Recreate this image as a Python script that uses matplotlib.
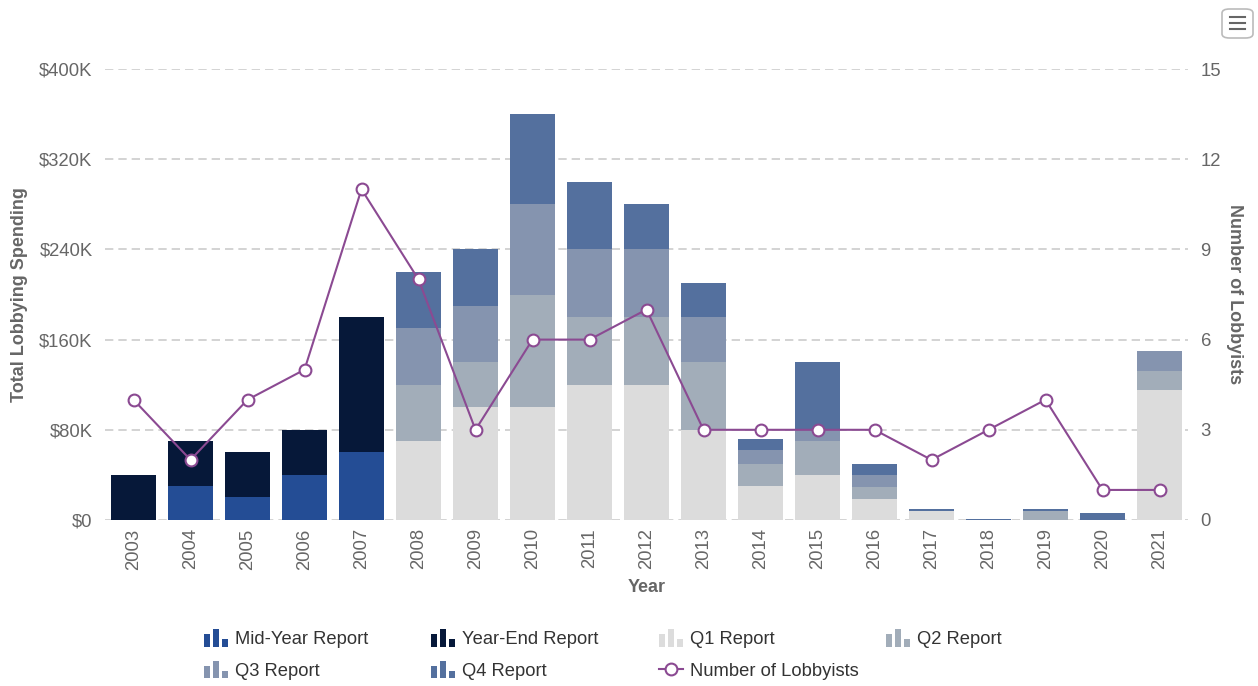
import numpy as np
import matplotlib
matplotlib.use("Agg")
import matplotlib.pyplot as plt
from matplotlib.patches import Rectangle, FancyBboxPatch
from matplotlib.legend_handler import HandlerBase
from matplotlib.lines import Line2D

plt.rcParams['font.family'] = ['Liberation Sans', 'DejaVu Sans']

years = [str(y) for y in range(2003, 2022)]

# spending in $K per report type
mid_year = [0, 30, 20, 40, 60, 0, 0, 0, 0, 0, 0, 0, 0, 0, 0, 0, 0, 0, 0]
year_end = [40, 40, 40, 40, 120, 0, 0, 0, 0, 0, 0, 0, 0, 0, 0, 0, 0, 0, 0]
q1 = [0, 0, 0, 0, 0, 70, 100, 100, 120, 120, 80, 30, 40, 19, 8, 0, 0, 0, 115]
q2 = [0, 0, 0, 0, 0, 50, 40, 100, 60, 60, 60, 20, 30, 10, 0, 0, 8, 0, 17]
q3 = [0, 0, 0, 0, 0, 50, 50, 80, 60, 60, 40, 12, 10, 11, 0, 0, 0, 0, 18]
q4 = [0, 0, 0, 0, 0, 50, 50, 80, 60, 40, 30, 10, 60, 10, 2, 1, 2, 6.5, 0]
lobbyists = [4, 2, 4, 5, 11, 8, 3, 6, 6, 7, 3, 3, 3, 3, 2, 3, 4, 1, 1]

colors = {
    "Mid-Year Report": "#244d95",
    "Year-End Report": "#061839",
    "Q1 Report": "#dcdcdc",
    "Q2 Report": "#a2adb9",
    "Q3 Report": "#8594af",
    "Q4 Report": "#54709e",
}
line_color = "#8b4a92"
text_color = "#666666"
fs = 13.3

fig = plt.figure(figsize=(12.58, 6.86), dpi=100)
ax = fig.add_axes([105 / 1258, 1 - 520 / 686, 1083 / 1258, 451 / 686])
ax2 = ax.twinx()

x = np.arange(len(years))
w = 0.8
series = [("Mid-Year Report", mid_year), ("Year-End Report", year_end),
          ("Q1 Report", q1), ("Q2 Report", q2), ("Q3 Report", q3), ("Q4 Report", q4)]
bottom = np.zeros(len(years))
for name, vals in series:
    vals = np.array(vals, dtype=float)
    ax.bar(x, vals, w, bottom=bottom, color=colors[name], linewidth=0, zorder=2)
    bottom += vals

ax.set_ylim(0, 400)
ax.set_xlim(-0.5, len(years) - 0.5)
ax.set_yticks([0, 80, 160, 240, 320, 400])
ax.set_yticklabels(["$0", "$80K", "$160K", "$240K", "$320K", "$400K"])
ax.set_xticks(x)
ax.set_xticklabels(years, rotation=90)
ax.grid(axis="y", color="#cccccc", linestyle=(0, (5, 3)), linewidth=1.2, zorder=0)
ax.set_axisbelow(True)
for s in ax.spines.values():
    s.set_visible(False)
ax.tick_params(axis="x", length=0, labelsize=fs, colors=text_color, pad=6)
ax.tick_params(axis="y", length=0, labelsize=fs, colors=text_color, pad=9)
ax.set_ylabel("Total Lobbying Spending", fontsize=13, fontweight="bold", color=text_color, labelpad=8)
ax.set_xlabel("Year", fontsize=13, fontweight="bold", color=text_color, labelpad=7)

ax2.plot(x, lobbyists, color=line_color, linewidth=1.5, marker="o", markersize=8.5,
         markerfacecolor="white", markeredgecolor=line_color, markeredgewidth=1.5, zorder=5)
ax2.set_ylim(0, 15)
ax2.set_yticks([0, 3, 6, 9, 12, 15])
for s in ax2.spines.values():
    s.set_visible(False)
ax2.tick_params(axis="y", length=0, labelsize=fs, colors=text_color, pad=9)
ax2.set_ylabel("Number of Lobbyists", fontsize=13, fontweight="bold", color=text_color,
               rotation=-90, labelpad=16)


class BarIcon(HandlerBase):
    def create_artists(self, legend, orig, xd, yd, width, height, fontsize, trans):
        c = orig.get_facecolor()
        bw = width * 0.24
        gap = width * 0.14
        hs = [0.95, 1.35, 0.6]
        arts = []
        for i, h in enumerate(hs):
            r = Rectangle((xd + i * (bw + gap), yd - 0.2 * height), bw, height * h,
                          facecolor=c, edgecolor="none", transform=trans)
            arts.append(r)
        return arts


handles = {name: Rectangle((0, 0), 1, 1, facecolor=colors[name]) for name in colors}
line_h = Line2D([], [], color=line_color, marker="o", markersize=8.5, markerfacecolor="white",
                markeredgecolor=line_color, markeredgewidth=1.5, linewidth=1.5)
hmap = {handles[n]: BarIcon() for n in handles}
columns = [["Mid-Year Report", "Q3 Report"], ["Year-End Report", "Q4 Report"],
           ["Q1 Report", "Number of Lobbyists"], ["Q2 Report"]]
col_x = [204, 431, 659, 886]
for cx, names in zip(col_x, columns):
    hl = [handles[n] if n in handles else line_h for n in names]
    leg = fig.legend(hl, names, loc="upper left", bbox_to_anchor=(cx / 1258, 1 - 631 / 686),
                     frameon=False, fontsize=13.2, handler_map=hmap, handlelength=1.3,
                     handletextpad=0.4, labelspacing=0.8, borderaxespad=0, borderpad=0)
    for t in leg.get_texts():
        t.set_color("#333333")

# menu icon
fig.patches.append(FancyBboxPatch((1222 / 1258, 1 - 38 / 686), 31 / 1258, 29 / 686,
                                  boxstyle="round,pad=0,rounding_size=0.006",
                                  transform=fig.transFigure, facecolor="white",
                                  edgecolor="#bbbbbb", linewidth=1.2))
for yy in [17, 23, 29]:
    fig.lines.append(Line2D([1230 / 1258, 1245 / 1258], [1 - yy / 686] * 2,
                            transform=fig.transFigure, color="#666666", linewidth=1.5))

fig.savefig("out.png", dpi=100)
